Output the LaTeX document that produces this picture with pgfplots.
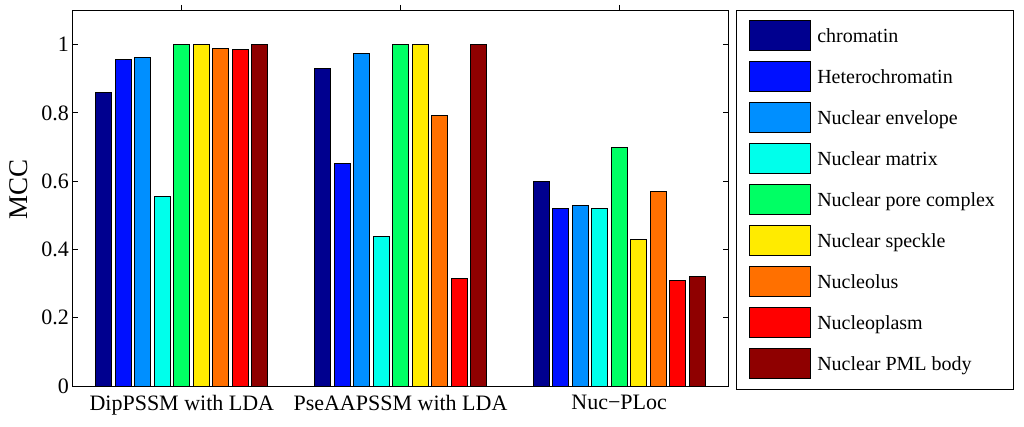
\documentclass[border=0pt]{standalone}
\usepackage{fontspec}
\setmainfont{Liberation Serif}
\usepackage{pgfplots}
\pgfplotsset{compat=1.18}
\definecolor{c1}{RGB}{0,0,143}
\definecolor{c2}{RGB}{0,16,255}
\definecolor{c3}{RGB}{0,143,255}
\definecolor{c4}{RGB}{0,255,235}
\definecolor{c5}{RGB}{0,255,100}
\definecolor{c6}{RGB}{255,235,0}
\definecolor{c7}{RGB}{255,112,0}
\definecolor{c8}{RGB}{255,0,0}
\definecolor{c9}{RGB}{143,0,0}
\begin{document}
\begin{tikzpicture}
\useasboundingbox (0,0) rectangle (1024bp,427bp);
\begin{axis}[
  at={(72.5bp,41bp)}, anchor=south west,
  scale only axis, width=656bp, height=375.5bp,
  xmin=0.5, xmax=3.5, ymin=0, ymax=1.1,
  xtick={1,2,3},
  xticklabels={DipPSSM with LDA, PseAAPSSM with LDA, Nuc−PLoc},
  ytick={0,0.2,0.4,0.6,0.8,1},
  tick align=inside,
  xtick pos=right, xticklabel pos=left,
  ytick pos=both, yticklabel pos=left,
  major tick length=5.5bp,
  axis line style={line width=0.9bp},
  every tick/.style={black, line width=0.9bp},
  /pgf/number format/assume math mode=true,
  tick label style={font=\fontsize{22bp}{26bp}\selectfont},
  ylabel={MCC},
  ylabel style={font=\fontsize{27bp}{30bp}\selectfont, at={(rel axis cs:-0.0823,0.5246)}, anchor=center},
  ybar=3.5bp, bar width=16bp,
  every axis plot/.append style={draw=black, line width=0.8bp},
  legend image code/.code={\draw[#1] (0bp,-15bp) rectangle (61bp,15bp);},
  legend style={at={(rel axis cs:1.0119,1.0021)}, anchor=north west,
    draw=black, line width=0.9bp, inner xsep=12bp, inner ysep=10bp,
    row sep=10.2bp, column sep=0bp,
    font=\fontsize{20bp}{24bp}\selectfont,
    nodes={inner xsep=6.7bp, inner ysep=0bp, text height=22bp, text depth=8bp, anchor=west}},
]
\addplot[fill=c1] coordinates {(1,0.860) (2,0.929) (3,0.600)};
\addplot[fill=c2] coordinates {(1,0.956) (2,0.653) (3,0.520)};
\addplot[fill=c3] coordinates {(1,0.963) (2,0.974) (3,0.530)};
\addplot[fill=c4] coordinates {(1,0.554) (2,0.439) (3,0.520)};
\addplot[fill=c5] coordinates {(1,1.000) (2,1.000) (3,0.700)};
\addplot[fill=c6] coordinates {(1,1.000) (2,1.000) (3,0.430)};
\addplot[fill=c7] coordinates {(1,0.990) (2,0.793) (3,0.570)};
\addplot[fill=c8] coordinates {(1,0.986) (2,0.316) (3,0.310)};
\addplot[fill=c9] coordinates {(1,1.000) (2,1.000) (3,0.321)};
\legend{chromatin, Heterochromatin, Nuclear envelope, Nuclear matrix, Nuclear pore complex, Nuclear speckle, Nucleolus, Nucleoplasm, Nuclear PML body}
\end{axis}
\end{tikzpicture}
\end{document}
